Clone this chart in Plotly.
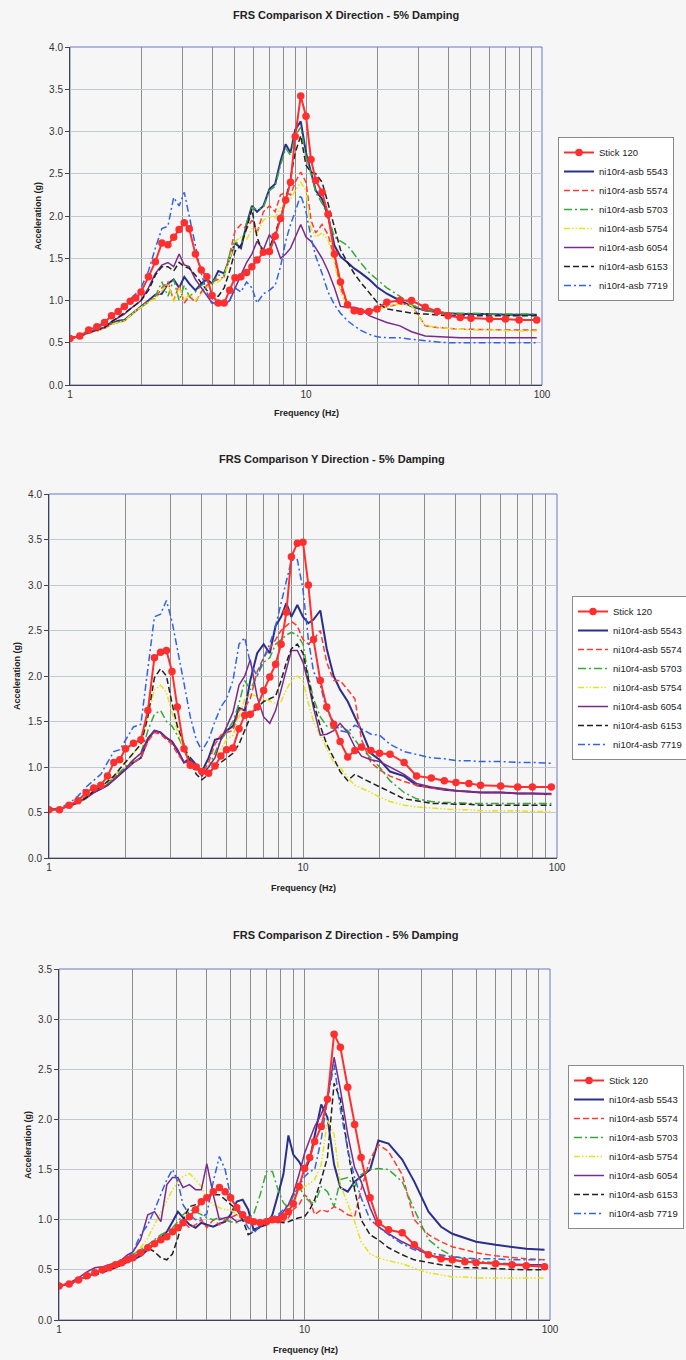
import plotly.graph_objects as go

# ---------------- data ----------------
FREQ = [1.0, 1.1, 1.2, 1.3, 1.4, 1.5, 1.6, 1.7, 1.8, 1.9,
        2.0, 2.15, 2.3, 2.45, 2.6, 2.75, 2.9, 3.05, 3.2, 3.4,
        3.6, 3.8, 4.0, 4.25, 4.5, 4.75, 5.0, 5.3, 5.6, 5.9,
        6.2, 6.6, 7.0, 7.4, 7.8, 8.2, 8.6, 9.0, 9.5, 10.0,
        10.5, 11.0, 11.7, 12.4, 13.2, 14.0, 15.0, 16.0, 17.0, 18.5,
        20, 22, 25, 28, 32, 36, 40, 45, 50, 60,
        70, 80, 95]

SERIES_NAMES = ["Stick 120", "ni10r4-asb 5543", "ni10r4-asb 5574", "ni10r4-asb 5703",
                "ni10r4-asb 5754", "ni10r4-asb 6054", "ni10r4-asb 6153", "ni10r4-asb 7719"]

# X direction
X_STICK = [0.55, 0.58, 0.65, 0.69, 0.74, 0.82, 0.87, 0.93, 0.99, 1.03,
           1.10, 1.28, 1.46, 1.68, 1.66, 1.75, 1.84, 1.92, 1.85, 1.55,
           1.36, 1.28, 1.06, 0.97, 0.97, 1.12, 1.27, 1.28, 1.33, 1.40,
           1.48, 1.57, 1.58, 1.76, 1.97, 2.19, 2.40, 2.94, 3.42, 3.18,
           2.67, 2.42, 2.28, 2.02, 1.55, 1.22, 0.95, 0.88, 0.87, 0.87,
           0.90, 0.98, 1.00, 1.00, 0.92, 0.87, 0.82, 0.80, 0.79, 0.78,
           0.78, 0.77, 0.77]
X_5543 = [0.55, 0.58, 0.62, 0.65, 0.68, 0.73, 0.76, 0.77, 0.83, 0.88,
          0.93, 1.00, 1.07, 1.08, 1.20, 1.25, 1.15, 1.28, 1.20, 1.12,
          1.20, 1.25, 1.20, 1.35, 1.32, 1.50, 1.68, 1.62, 1.90, 2.12,
          2.05, 2.12, 2.32, 2.38, 2.65, 2.85, 2.75, 3.02, 3.12, 2.75,
          2.52, 2.30, 2.20, 2.00, 1.65, 1.52, 1.45, 1.38, 1.33, 1.25,
          1.16, 1.08, 1.00, 0.93, 0.88, 0.86, 0.85, 0.84, 0.84, 0.84,
          0.83, 0.83, 0.83]
X_5574 = [0.55, 0.58, 0.61, 0.64, 0.67, 0.72, 0.74, 0.76, 0.82, 0.88,
          0.92, 1.00, 1.02, 1.15, 1.22, 1.00, 1.18, 0.97, 1.05, 0.98,
          1.10, 1.18, 1.22, 1.25, 1.28, 1.55, 1.82, 1.90, 1.85, 1.95,
          1.80, 2.05, 2.12, 2.05, 2.25, 2.28, 2.25, 2.40, 2.52, 2.40,
          1.95, 1.80, 1.90, 1.78, 1.50, 1.15, 0.95, 0.88, 0.87, 0.88,
          0.90, 0.93, 0.96, 0.95, 0.70, 0.68, 0.67, 0.66, 0.66, 0.65,
          0.65, 0.65, 0.65]
X_5703 = [0.55, 0.58, 0.62, 0.65, 0.68, 0.73, 0.75, 0.76, 0.82, 0.88,
          0.92, 0.98, 1.05, 1.22, 1.05, 1.25, 1.00, 1.18, 1.05, 1.10,
          1.18, 1.22, 1.20, 1.30, 1.30, 1.55, 1.70, 1.65, 1.92, 2.10,
          2.08, 2.10, 2.30, 2.35, 2.60, 2.80, 2.72, 2.95, 3.05, 2.70,
          2.50, 2.28, 2.15, 2.00, 1.75, 1.70, 1.65, 1.55, 1.45, 1.33,
          1.25, 1.15, 1.05, 0.95, 0.88, 0.86, 0.85, 0.85, 0.85, 0.84,
          0.84, 0.84, 0.84]
X_5754 = [0.55, 0.58, 0.61, 0.64, 0.67, 0.72, 0.74, 0.76, 0.82, 0.88,
          0.92, 0.98, 1.02, 1.12, 1.20, 0.98, 1.15, 1.00, 1.08, 1.00,
          1.08, 1.15, 1.20, 1.22, 1.28, 1.50, 1.70, 1.75, 1.72, 1.85,
          1.80, 1.95, 2.00, 1.98, 2.10, 2.15, 2.20, 2.30, 2.40, 2.30,
          1.85, 1.75, 1.80, 1.72, 1.45, 1.10, 0.92, 0.87, 0.86, 0.87,
          0.90, 0.93, 0.96, 0.94, 0.70, 0.68, 0.67, 0.66, 0.65, 0.65,
          0.64, 0.64, 0.64]
X_6054 = [0.55, 0.58, 0.62, 0.65, 0.68, 0.75, 0.80, 0.84, 0.90, 0.95,
          1.00, 1.15, 1.32, 1.42, 1.45, 1.40, 1.55, 1.42, 1.40, 1.25,
          1.15, 1.05, 0.97, 0.97, 0.95, 1.00, 1.15, 1.30, 1.45, 1.55,
          1.70, 1.60, 1.78, 1.68, 1.50, 1.55, 1.62, 1.75, 1.90, 1.75,
          1.70, 1.62, 1.50, 1.35, 1.15, 0.93, 0.92, 0.92, 0.90, 0.82,
          0.78, 0.74, 0.70, 0.63, 0.58, 0.57, 0.57, 0.56, 0.56, 0.56,
          0.56, 0.56, 0.56]
X_6153 = [0.55, 0.58, 0.62, 0.65, 0.68, 0.75, 0.80, 0.85, 0.90, 0.95,
          1.00, 1.12, 1.30, 1.40, 1.40, 1.35, 1.45, 1.40, 1.38, 1.30,
          1.20, 1.12, 1.05, 1.05, 1.15, 1.35, 1.58, 1.65, 1.85, 2.08,
          1.75, 1.55, 1.62, 1.80, 1.98, 2.20, 2.45, 2.75, 2.95, 2.60,
          2.52, 2.50, 2.40, 2.15, 1.85, 1.60, 1.45, 1.32, 1.22, 1.10,
          0.98, 0.90, 0.87, 0.85, 0.84, 0.83, 0.82, 0.82, 0.82, 0.82,
          0.82, 0.82, 0.82]
X_7719 = [0.55, 0.58, 0.63, 0.67, 0.72, 0.80, 0.88, 0.95, 1.02, 1.08,
          1.15, 1.35, 1.62, 1.85, 1.88, 2.22, 2.12, 2.28, 2.00, 1.65,
          1.32, 1.10, 0.96, 0.95, 0.95, 1.00, 1.15, 1.10, 1.22, 1.15,
          0.97, 1.08, 1.12, 1.18, 1.40, 1.70, 1.90, 2.05, 2.25, 2.05,
          1.75, 1.52, 1.32, 1.10, 0.95, 0.85, 0.76, 0.70, 0.65, 0.60,
          0.57, 0.56, 0.56, 0.54, 0.52, 0.51, 0.50, 0.50, 0.50, 0.50,
          0.50, 0.50, 0.50]

# Y direction
Y_STICK = [0.53, 0.53, 0.58, 0.63, 0.72, 0.77, 0.80, 0.90, 1.05, 1.08,
           1.20, 1.26, 1.30, 1.62, 2.20, 2.26, 2.28, 2.05, 1.66, 1.20,
           1.02, 1.00, 0.95, 0.93, 1.01, 1.12, 1.19, 1.21, 1.42, 1.57,
           1.58, 1.66, 1.84, 1.99, 2.13, 2.35, 2.70, 3.31, 3.46, 3.47,
           3.00, 2.40, 1.95, 1.66, 1.47, 1.28, 1.11, 1.18, 1.22, 1.18,
           1.15, 1.14, 1.05, 0.90, 0.88, 0.85, 0.83, 0.82, 0.80, 0.79,
           0.78, 0.78, 0.78]
Y_5543 = [0.53, 0.54, 0.57, 0.61, 0.66, 0.72, 0.76, 0.80, 0.86, 0.92,
          0.98, 1.05, 1.10, 1.30, 1.40, 1.38, 1.32, 1.28, 1.18, 1.05,
          1.10, 1.02, 0.95, 1.10, 1.30, 1.32, 1.40, 1.45, 1.65, 1.62,
          1.95, 2.25, 2.35, 2.25, 2.55, 2.65, 2.80, 2.65, 2.78, 2.65,
          2.58, 2.62, 2.72, 2.30, 2.00, 1.85, 1.72, 1.55, 1.40, 1.15,
          1.08, 0.95, 0.90, 0.80, 0.77, 0.75, 0.74, 0.73, 0.72, 0.72,
          0.71, 0.71, 0.70]
Y_5574 = [0.53, 0.54, 0.58, 0.62, 0.68, 0.72, 0.77, 0.82, 0.88, 0.93,
          0.98, 1.05, 1.10, 1.28, 1.38, 1.36, 1.30, 1.25, 1.15, 1.05,
          1.05, 1.00, 0.92, 1.05, 1.25, 1.35, 1.38, 1.40, 1.62, 1.65,
          1.75, 2.05, 2.20, 2.30, 2.40, 2.50, 2.55, 2.60, 2.55, 2.40,
          2.35, 2.40, 2.50, 2.15, 1.95, 1.95, 1.85, 1.75, 1.30, 1.05,
          0.97, 0.90, 0.84, 0.80, 0.77, 0.75, 0.74, 0.73, 0.72, 0.72,
          0.71, 0.71, 0.70]
Y_5703 = [0.53, 0.54, 0.57, 0.61, 0.65, 0.75, 0.78, 0.82, 0.88, 0.94,
          1.00, 1.08, 1.15, 1.40, 1.58, 1.62, 1.50, 1.45, 1.35, 1.20,
          1.05, 1.00, 0.95, 1.00, 1.15, 1.30, 1.38, 1.50, 1.70, 1.95,
          1.85, 2.00, 2.15, 2.20, 2.35, 2.40, 2.45, 2.48, 2.45, 2.35,
          2.00, 1.75, 1.55, 1.45, 1.42, 1.45, 1.40, 1.30, 1.20, 1.10,
          1.00, 0.85, 0.72, 0.65, 0.62, 0.61, 0.61, 0.60, 0.60, 0.60,
          0.60, 0.60, 0.60]
Y_5754 = [0.53, 0.54, 0.57, 0.61, 0.65, 0.75, 0.78, 0.83, 0.90, 0.97,
          1.05, 1.15, 1.25, 1.55, 1.85, 1.90, 1.82, 1.60, 1.40, 1.20,
          1.08, 1.00, 0.95, 1.00, 1.10, 1.20, 1.30, 1.35, 1.55, 1.75,
          1.80, 1.78, 1.75, 1.72, 1.70, 1.72, 1.85, 1.95, 2.00, 1.95,
          1.70, 1.50, 1.35, 1.20, 1.05, 1.00, 0.88, 0.80, 0.77, 0.72,
          0.67, 0.62, 0.58, 0.56, 0.55, 0.54, 0.53, 0.53, 0.52, 0.52,
          0.52, 0.51, 0.51]
Y_6054 = [0.53, 0.54, 0.57, 0.61, 0.66, 0.72, 0.76, 0.80, 0.86, 0.92,
          0.98, 1.08, 1.15, 1.32, 1.40, 1.38, 1.32, 1.28, 1.20, 1.05,
          1.08, 1.00, 0.90, 1.00, 1.10, 1.30, 1.45, 1.60, 1.90, 2.00,
          2.18, 1.77, 1.55, 1.48, 1.62, 1.85, 2.10, 2.28, 2.28, 2.15,
          1.92, 1.65, 1.35, 1.36, 1.40, 1.48, 1.38, 1.22, 1.12, 1.08,
          1.06, 1.00, 0.92, 0.82, 0.78, 0.76, 0.74, 0.73, 0.72, 0.72,
          0.71, 0.71, 0.71]
Y_6153 = [0.53, 0.54, 0.57, 0.61, 0.66, 0.74, 0.78, 0.84, 0.90, 0.98,
          1.05, 1.15, 1.25, 1.55, 1.98, 2.08, 2.00, 1.70, 1.45, 1.25,
          1.05, 0.92, 0.86, 0.92, 1.00, 1.05, 1.10, 1.15, 1.25, 1.40,
          1.55, 1.65, 1.72, 1.75, 1.78, 1.95, 2.15, 2.30, 2.35, 2.25,
          1.95, 1.70, 1.45, 1.25, 1.10, 0.95, 0.85, 0.92, 0.88, 0.83,
          0.78, 0.72, 0.65, 0.63, 0.60, 0.60, 0.59, 0.59, 0.58, 0.58,
          0.58, 0.58, 0.58]
Y_7719 = [0.53, 0.55, 0.60, 0.68, 0.78, 0.85, 0.92, 1.05, 1.17, 1.19,
          1.30, 1.44, 1.47, 2.10, 2.65, 2.68, 2.83, 2.60, 2.28, 1.92,
          1.55, 1.30, 1.18, 1.30, 1.50, 1.66, 1.75, 1.95, 2.35, 2.42,
          2.14, 2.00, 2.20, 2.35, 2.55, 2.80, 3.05, 3.27, 3.28, 2.95,
          2.40, 2.05, 1.90, 1.62, 1.50, 1.40, 1.38, 1.46, 1.42, 1.36,
          1.35, 1.25, 1.17, 1.14, 1.10, 1.09, 1.07, 1.07, 1.06, 1.06,
          1.05, 1.05, 1.04]

# Z direction
Z_STICK = [0.34, 0.36, 0.40, 0.44, 0.47, 0.50, 0.52, 0.55, 0.57, 0.60,
           0.62, 0.67, 0.72, 0.76, 0.80, 0.83, 0.88, 0.92, 0.97, 1.03,
           1.10, 1.18, 1.22, 1.28, 1.32, 1.28, 1.22, 1.12, 1.05, 1.00,
           0.98, 0.97, 0.98, 1.00, 1.00, 1.03, 1.08, 1.16, 1.33, 1.51,
           1.62, 1.78, 1.93, 2.20, 2.85, 2.72, 2.32, 1.95, 1.62, 1.22,
           0.97, 0.90, 0.87, 0.75, 0.65, 0.61, 0.60, 0.58, 0.57, 0.56,
           0.55, 0.54, 0.53]
Z_5543 = [0.34, 0.36, 0.40, 0.44, 0.47, 0.50, 0.52, 0.53, 0.55, 0.58,
          0.60, 0.64, 0.70, 0.76, 0.82, 0.88, 0.98, 1.08, 1.02, 0.95,
          0.92, 0.97, 0.95, 0.93, 0.96, 0.98, 1.05, 1.18, 1.20, 1.10,
          0.90, 0.93, 0.95, 1.05, 1.25, 1.45, 1.84, 1.65, 1.58, 1.48,
          1.60, 1.85, 2.15, 2.02, 1.55, 1.32, 1.28, 1.38, 1.43, 1.50,
          1.79, 1.76, 1.60, 1.38, 1.08, 0.93, 0.86, 0.82, 0.78, 0.75,
          0.73, 0.71, 0.70]
Z_5574 = [0.34, 0.36, 0.39, 0.43, 0.46, 0.49, 0.52, 0.55, 0.57, 0.60,
          0.63, 0.68, 0.72, 0.76, 0.80, 0.84, 0.88, 0.92, 0.98, 0.92,
          0.95, 1.00, 0.92, 1.00, 0.95, 1.00, 1.02, 1.05, 1.00, 0.97,
          0.98, 1.00, 0.96, 0.98, 1.00, 0.98, 1.02, 1.10, 1.15, 1.25,
          1.20, 1.05, 1.10, 1.08, 1.13, 1.10, 1.05, 1.03, 1.30, 1.60,
          1.75, 1.68, 1.45, 1.00, 0.85, 0.78, 0.73, 0.70, 0.67, 0.64,
          0.62, 0.61, 0.60]
Z_5703 = [0.34, 0.36, 0.40, 0.44, 0.47, 0.50, 0.52, 0.55, 0.58, 0.62,
          0.65, 0.70, 0.75, 0.80, 0.85, 0.88, 0.92, 0.98, 1.05, 1.10,
          1.08, 1.05, 1.02, 1.00, 1.02, 1.00, 0.98, 0.97, 1.00, 1.02,
          1.05, 1.25, 1.48, 1.48, 1.30, 1.17, 1.12, 1.25, 1.33, 1.23,
          1.18, 1.16, 1.33, 1.28, 1.13, 1.40, 1.42, 1.33, 1.45, 1.50,
          1.51, 1.50, 1.38, 1.10, 0.80, 0.70, 0.64, 0.61, 0.59, 0.57,
          0.56, 0.55, 0.55]
Z_5754 = [0.34, 0.36, 0.40, 0.44, 0.48, 0.50, 0.52, 0.55, 0.58, 0.62,
          0.66, 0.72, 0.82, 0.95, 1.08, 1.20, 1.30, 1.38, 1.43, 1.46,
          1.40, 1.33, 1.20, 1.15, 1.12, 1.10, 1.10, 1.05, 1.00, 0.98,
          0.97, 0.98, 0.98, 1.00, 1.02, 1.05, 1.12, 1.20, 1.29, 1.33,
          1.36, 1.40, 1.55, 1.99, 1.85, 1.35, 1.15, 0.98, 0.78, 0.66,
          0.62, 0.59, 0.56, 0.52, 0.47, 0.45, 0.43, 0.43, 0.42, 0.42,
          0.42, 0.42, 0.42]
Z_6054 = [0.34, 0.37, 0.42, 0.48, 0.52, 0.53, 0.55, 0.57, 0.60, 0.65,
          0.68, 0.80, 1.05, 1.08, 0.98, 1.35, 1.42, 1.42, 1.32, 1.35,
          1.30, 1.30, 1.56, 1.25, 1.00, 1.02, 1.03, 0.98, 1.00, 0.97,
          0.97, 0.98, 1.00, 1.02, 1.03, 1.08, 1.15, 1.26, 1.45, 1.66,
          1.80, 1.93, 2.05, 2.20, 2.62, 2.30, 1.85, 1.52, 1.38, 1.12,
          0.93, 0.86, 0.78, 0.72, 0.65, 0.62, 0.60, 0.58, 0.57, 0.56,
          0.55, 0.55, 0.55]
Z_6153 = [0.34, 0.36, 0.38, 0.42, 0.45, 0.47, 0.50, 0.52, 0.55, 0.58,
          0.62, 0.68, 0.72, 0.68, 0.62, 0.60, 0.66, 0.82, 1.00, 1.13,
          1.15, 1.18, 1.22, 1.25, 1.25, 1.20, 1.15, 1.10, 1.00, 0.85,
          0.88, 0.93, 0.97, 0.98, 0.98, 0.97, 0.98, 1.00, 1.02, 1.03,
          1.10, 1.20, 1.40, 1.62, 2.36, 2.20, 1.70, 1.30, 1.00, 0.85,
          0.80, 0.72, 0.65, 0.60, 0.57, 0.55, 0.54, 0.52, 0.52, 0.51,
          0.50, 0.50, 0.50]
Z_7719 = [0.34, 0.36, 0.40, 0.43, 0.46, 0.50, 0.52, 0.55, 0.58, 0.62,
          0.68, 0.85, 0.95, 1.10, 1.25, 1.40, 1.50, 1.38, 1.15, 1.05,
          1.00, 1.02, 1.06, 1.38, 1.63, 1.50, 1.23, 1.10, 1.02, 0.92,
          0.86, 0.95, 1.00, 1.03, 1.05, 1.10, 1.15, 1.23, 1.33, 1.43,
          1.48, 1.50, 1.80, 2.20, 2.55, 2.10, 1.70, 1.42, 1.22, 1.00,
          0.93, 0.85, 0.76, 0.70, 0.67, 0.65, 0.63, 0.62, 0.61, 0.61,
          0.60, 0.60, 0.60]

PANELS = [
    ("FRS Comparison X Direction - 5% Damping",
     [X_STICK, X_5543, X_5574, X_5703, X_5754, X_6054, X_6153, X_7719], 4.0),
    ("FRS Comparison Y Direction - 5% Damping",
     [Y_STICK, Y_5543, Y_5574, Y_5703, Y_5754, Y_6054, Y_6153, Y_7719], 4.0),
    ("FRS Comparison Z Direction - 5% Damping",
     [Z_STICK, Z_5543, Z_5574, Z_5703, Z_5754, Z_6054, Z_6153, Z_7719], 3.5),
]

# ---------------- styles ----------------
W, H = 686, 1360
STYLES = [
    dict(color="#ff2f2f", width=2.0, dash="solid"),
    dict(color="#2b2f8c", width=2.0, dash="solid"),
    dict(color="#ff3b30", width=1.5, dash="6px,3px"),
    dict(color="#3aa83a", width=1.5, dash="8px,3px,2px,3px"),
    dict(color="#e4e41a", width=1.5, dash="6px,2px,1.5px,2px,1.5px,2px"),
    dict(color="#7a2a8a", width=1.5, dash="solid"),
    dict(color="#222222", width=1.5, dash="6px,3px"),
    dict(color="#2f64e8", width=1.5, dash="7px,3px,2px,3px"),
]

# layout geometry in pixels: (x_left, x_right, y_top, y_bottom)
GEOM = [(70, 542, 47, 385), (49, 557, 494, 858), (59, 550, 969, 1320)]
TITLE_POS = [(346, 15), (332, 459), (346, 935)]
XT_POS = [(306, 413), (303, 888), (305, 1350)]
YT_POS = [(38, 216), (17, 676), (28, 1145)]
LEGEND_POS = [(558, 137), (572, 596), (568, 1065)]

FONT = "Liberation Sans, Arial, sans-serif"

fig = go.Figure()
annotations = []
shapes = []
layout = {}
minor_vals = [v * m for m in (1, 10) for v in range(1, 10)] + [100]

for p, (title, series, ymax) in enumerate(PANELS):
    sfx = "" if p == 0 else str(p + 1)
    xl, xr, yt, yb = GEOM[p]
    leg = "legend" if p == 0 else "legend%d" % (p + 1)
    order = list(range(1, 8)) + [0]  # draw stick on top
    for i in order:
        st = STYLES[i]
        kw = dict(
            x=FREQ, y=series[i], name=SERIES_NAMES[i],
            xaxis="x" + sfx, yaxis="y" + sfx, legend=leg,
            legendrank=i + 1,
            line=dict(color=st["color"], width=st["width"], dash=st["dash"]),
            hoverinfo="skip",
        )
        if i == 0:
            kw["mode"] = "lines+markers"
            kw["marker"] = dict(size=7.5, color=st["color"], symbol="circle")
        else:
            kw["mode"] = "lines"
        fig.add_trace(go.Scatter(**kw))

    layout["xaxis" + sfx] = dict(
        type="log", range=[0, 2], domain=[xl / W, xr / W], anchor="y" + sfx,
        tickmode="array", tickvals=minor_vals,
        ticktext=[("%g" % v) if v in (1, 10, 100) else "" for v in minor_vals],
        ticks="", showgrid=True, gridcolor="#8c8c8c", gridwidth=1,
        showline=True, linecolor="#444444", linewidth=1,
        tickfont=dict(family=FONT, size=10, color="#333333"),
        zeroline=False, fixedrange=True, automargin=False,
    )
    layout["yaxis" + sfx] = dict(
        range=[0, ymax], domain=[1 - yb / H, 1 - yt / H], anchor="x" + sfx,
        dtick=0.5, tick0=0, tickformat=".1f", ticks="outside", ticklen=4,
        tickcolor="#444444", showgrid=True, gridcolor="#c4c8d4", gridwidth=1,
        showline=True, linecolor="#444444", linewidth=1,
        tickfont=dict(family=FONT, size=10, color="#333333"),
        zeroline=False, fixedrange=True, automargin=False,
    )
    shapes.append(dict(type="rect", xref="x%s domain" % sfx, yref="y%s domain" % sfx,
                       x0=0, x1=1, y0=0, y1=1, layer="below",
                       line=dict(color="#6a76c6", width=1)))
    tx, ty = TITLE_POS[p]
    annotations.append(dict(text="<b>%s</b>" % title, x=tx / W, y=1 - ty / H,
                            xref="paper", yref="paper", showarrow=False,
                            xanchor="center", yanchor="middle",
                            font=dict(family=FONT, size=11, color="#222222")))
    fx, fy = XT_POS[p]
    annotations.append(dict(text="<b>Frequency (Hz)</b>", x=fx / W, y=1 - fy / H,
                            xref="paper", yref="paper", showarrow=False,
                            xanchor="center", yanchor="middle",
                            font=dict(family=FONT, size=9, color="#222222")))
    ax_, ay_ = YT_POS[p]
    annotations.append(dict(text="<b>Acceleration (g)</b>", x=ax_ / W, y=1 - ay_ / H,
                            xref="paper", yref="paper", showarrow=False, textangle=-90,
                            xanchor="center", yanchor="middle",
                            font=dict(family=FONT, size=9, color="#222222")))
    lx, ly = LEGEND_POS[p]
    layout[leg] = dict(
        x=lx / W, y=1 - ly / H, xanchor="left", yanchor="top",
        xref="paper", yref="paper", traceorder="normal",
        bgcolor="#ffffff", bordercolor="#8a8a8a", borderwidth=1,
        font=dict(family=FONT, size=9.5, color="#222222"),
        itemwidth=30, tracegroupgap=0,
    )

fig.update_layout(
    width=W, height=H,
    margin=dict(l=0, r=0, t=0, b=0, autoexpand=False),
    paper_bgcolor="#f6f6f6", plot_bgcolor="#f6f6f6",
    showlegend=True, annotations=annotations, shapes=shapes,
    **layout,
)

fig.write_html("out.html")
